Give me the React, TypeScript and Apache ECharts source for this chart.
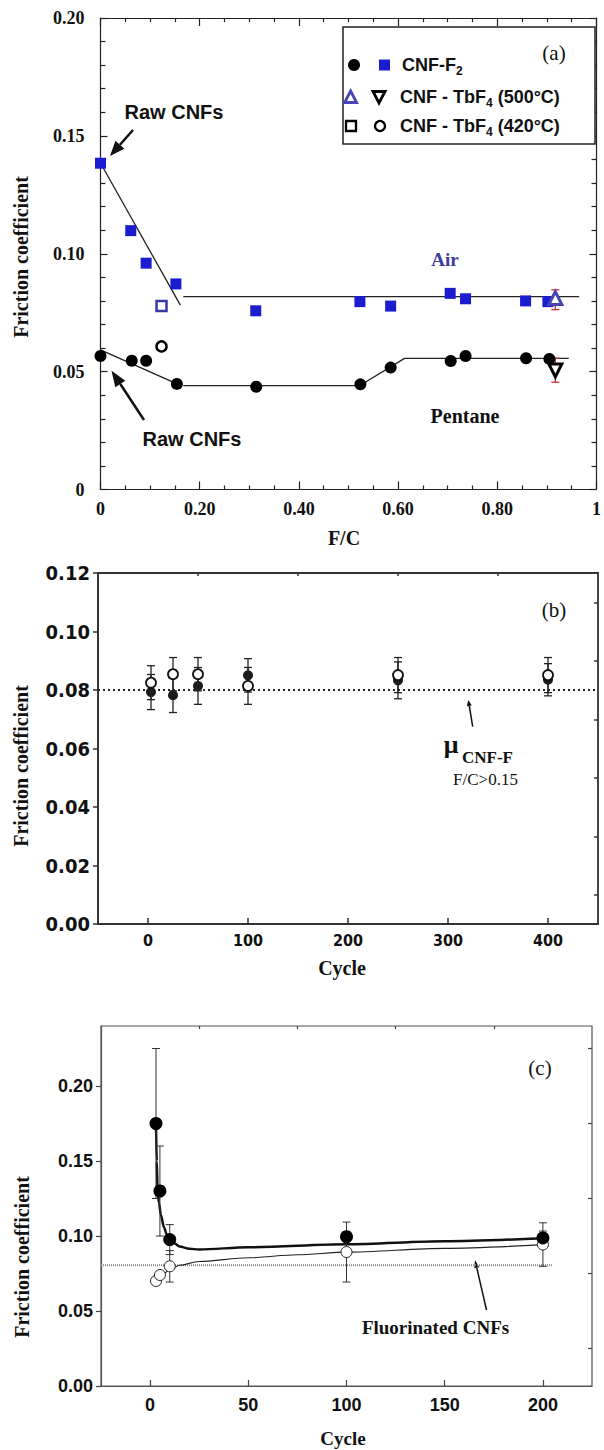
import React, { useEffect, useRef } from "react";
import * as echarts from "echarts";

// ---------- Panel (a): friction coefficient vs F/C ----------
const airFC = [0, 0.061, 0.092, 0.152, 0.313, 0.523, 0.585, 0.705, 0.736, 0.857, 0.902];
const airMu = [0.1384, 0.1098, 0.096, 0.0872, 0.0758, 0.0797, 0.0778, 0.0832, 0.0809, 0.08, 0.0797];
const pentFC = [0, 0.063, 0.092, 0.154, 0.314, 0.524, 0.585, 0.706, 0.736, 0.858, 0.905];
const pentMu = [0.0566, 0.0546, 0.0546, 0.0448, 0.0436, 0.0446, 0.0517, 0.0545, 0.0566, 0.0557, 0.0554];
const airSlopeFC = [0, 0.161];
const airSlopeMu = [0.1385, 0.0782];
const airFlatFC = [0.167, 0.965];
const airFlatMu = [0.0818, 0.0818];
const pentSlopeFC = [0, 0.16];
const pentSlopeMu = [0.0592, 0.0443];
const pentFlatFC = [0.167, 0.523, 0.613, 0.944];
const pentFlatMu = [0.0441, 0.0441, 0.0556, 0.0556];
const tb420FC = [0.123];
const tb420AirMu = [0.0778];
const tb420PentMu = [0.0607];
const tb500FC = [0.917];
const tb500AirMu = [0.0812];
const tb500AirLo = [0.0763];
const tb500AirHi = [0.0847];
const tb500PentMu = [0.0505];
const tb500PentLo = [0.0455];
const tb500PentHi = [0.0557];

// ---------- Panel (b): friction coefficient vs cycle ----------
const cycleB = [3, 25, 50, 100, 250, 400];
const openB = [0.0825, 0.0854, 0.0854, 0.0814, 0.0851, 0.0851];
const openErrB = [0.0058, 0.0057, 0.0057, 0.0063, 0.006, 0.006];
const filledB = [0.0793, 0.0782, 0.0814, 0.085, 0.0833, 0.0835];
const filledErrB = [0.006, 0.0059, 0.0063, 0.0057, 0.0063, 0.0055];
const refLineB = { x: [-50, 450], mu: 0.08 };

// ---------- Panel (c): friction coefficient vs cycle ----------
const cycleC = [3, 5, 10, 100, 200];
const filledC = [0.175, 0.13, 0.0976, 0.0995, 0.0987];
const filledErrC = [0.05, 0.03, 0.01, 0.0032, 0.0046];
const openC = [0.07, 0.074, 0.0798, 0.0893, 0.0943];
const openErrC = [0, 0, 0.0105, 0.02, 0.0145];
const fitFilledX = [3, 3.4, 3.8, 4.5, 5.5, 7, 8.5, 10.5, 12.5, 15, 20, 25, 50, 100, 150, 200];
const fitFilledY = [0.175, 0.15, 0.13, 0.122, 0.114, 0.106, 0.101, 0.097, 0.095, 0.093, 0.0915, 0.091, 0.0925, 0.0945, 0.0965, 0.0985];
const fitOpenX = [4, 5, 7, 10, 15, 25, 50, 75, 100, 150, 200];
const fitOpenY = [0.0715, 0.0725, 0.075, 0.0775, 0.0805, 0.083, 0.0855, 0.0875, 0.0892, 0.0918, 0.0942];
const refLineC = { x: [-25, 205], mu: 0.0805 };

// ---------- tick values ----------
const cycleTicksB = [0, 100, 200, 300, 400];
const cycleMinorB = [50, 150, 250, 350];
const muMinorB = [0.01, 0.03, 0.05, 0.07, 0.09, 0.11];
const cycleTicksC = [0, 50, 100, 150, 200];
const cycleMinorC = [25, 75, 125, 175];
const muTicksC = [0, 0.05, 0.1, 0.15, 0.2];
const muMinorC = [0.025, 0.075, 0.125, 0.175, 0.225];

const SERIF = "'Liberation Serif', 'Times New Roman', serif";
const SANS = "'Liberation Sans', Arial, sans-serif";
const NARROW = "'Liberation Sans Narrow', 'Arial Narrow', 'DejaVu Sans Condensed', sans-serif";
const BLUE = "#1b1bcf";
const SLATE = "#4545b5";

const zip = (xs: number[], ys: number[]) => xs.map((x, i) => [x, ys[i]]);
const zipErr = (xs: number[], ys: number[], es: number[]) =>
  xs.map((x, i) => [x, ys[i] - es[i], ys[i] + es[i]]).filter((_, i) => es[i] > 0);

function errorBars(points: number[][], xi: number, yi: number, color: string, width: number, cap: number, z = 3) {
  return {
    type: "custom",
    xAxisIndex: xi,
    yAxisIndex: yi,
    z,
    silent: true,
    data: points,
    encode: { x: 0, y: [1, 2] },
    renderItem: (_params: any, api: any) => {
      const x = api.value(0);
      const lo = api.coord([x, api.value(1)]);
      const hi = api.coord([x, api.value(2)]);
      const st = { stroke: color, lineWidth: width };
      return {
        type: "group",
        children: [
          { type: "line", shape: { x1: lo[0], y1: lo[1], x2: hi[0], y2: hi[1] }, style: st },
          { type: "line", shape: { x1: lo[0] - cap, y1: lo[1], x2: lo[0] + cap, y2: lo[1] }, style: st },
          { type: "line", shape: { x1: hi[0] - cap, y1: hi[1], x2: hi[0] + cap, y2: hi[1] }, style: st },
        ],
      };
    },
  };
}

function arrow(x1: number, y1: number, x2: number, y2: number, lw: number, hl: number, hw: number, color = "#111") {
  const dx = x2 - x1, dy = y2 - y1, L = Math.hypot(dx, dy);
  const ux = dx / L, uy = dy / L, nx = -uy, ny = ux;
  const bx = x2 - ux * hl, by = y2 - uy * hl;
  return [
    { type: "line", shape: { x1, y1, x2: bx, y2: by }, style: { stroke: color, lineWidth: lw } },
    {
      type: "polygon",
      shape: { points: [[x2, y2], [bx + nx * hw, by + ny * hw], [bx - nx * hw, by - ny * hw]] },
      style: { fill: color },
    },
  ];
}

const txt = (text: string, x: number, y: number, font: string, size: number, weight: string, color = "#111", rotation = 0, align = "center") => ({
  type: "text",
  x,
  y,
  rotation,
  style: { text, fontFamily: font, fontSize: size, fontWeight: weight, fill: color, align, verticalAlign: "middle" },
});

const line = (d: number[][], xi: number, yi: number, width: number, color = "#222", type: any = "solid", smooth: any = false) => ({
  type: "line",
  xAxisIndex: xi,
  yAxisIndex: yi,
  data: d,
  symbol: "none",
  smooth,
  smoothMonotone: "x",
  silent: true,
  z: 1,
  lineStyle: { color, width, type },
});

const scatter = (d: number[][], xi: number, yi: number, symbol: string, size: number, style: any, z = 4, rotate = 0) => ({
  type: "scatter",
  xAxisIndex: xi,
  yAxisIndex: yi,
  data: d,
  symbol,
  symbolSize: size,
  symbolRotate: rotate,
  silent: true,
  z,
  itemStyle: { opacity: 1, ...style },
});

const AX = { color: "#222", width: 1.2 };

export default function App() {
  const ref = useRef<HTMLDivElement>(null);

  useEffect(() => {
    if (!ref.current) return;
    const chart = echarts.init(ref.current, null, { renderer: "svg" });

    const fcLabel = (v: number) => (Math.abs(v) < 1e-9 ? "0" : Math.abs(v - 1) < 1e-9 ? "1" : v.toFixed(2));
    const muLabelA = (v: number) => (Math.abs(v) < 1e-9 ? "0" : v.toFixed(2));
    const fix2 = (v: number) => v.toFixed(2);

    const hidden = { show: false };
    const noLine = { show: false, onZero: false };

    const subRich = {
      m: { fontFamily: SANS, fontWeight: "bold", fontSize: 18, fill: "#111", lineHeight: 24 },
      s: { fontFamily: SANS, fontWeight: "bold", fontSize: 12, fill: "#111", lineHeight: 12, verticalAlign: "bottom" },
    };

    const option: any = {
      animation: false,
      backgroundColor: "#fff",
      grid: [
        { left: 100.5, top: 18, width: 499, height: 471.5, show: false },
        { left: 98, top: 573, width: 500, height: 351, show: true, borderColor: "#333", borderWidth: 1.8 },
        { left: 101, top: 1026, width: 491, height: 360, show: true, borderColor: "#555", borderWidth: 1.2 },
      ],
      xAxis: [
        {
          type: "value", gridIndex: 0, min: 0, max: 1, interval: 0.2,
          axisLine: { show: true, onZero: false, lineStyle: AX },
          axisTick: { inside: true, length: 8, lineStyle: AX },
          minorTick: { show: true, splitNumber: 4, length: 4, lineStyle: AX },
          axisLabel: { formatter: fcLabel, fontFamily: SERIF, fontWeight: "bold", fontSize: 18, color: "#111", margin: 10 },
          splitLine: hidden, minorSplitLine: hidden,
        },
        {
          type: "value", gridIndex: 0, position: "top", min: 0, max: 1, interval: 0.2,
          axisLine: { show: true, onZero: false, lineStyle: AX },
          axisTick: { inside: true, length: 8, lineStyle: AX },
          minorTick: { show: true, splitNumber: 4, length: 4, lineStyle: AX },
          axisLabel: hidden, splitLine: hidden, minorSplitLine: hidden,
        },
        {
          type: "value", gridIndex: 1, min: -50, max: 450,
          axisLine: { show: true, onZero: false, lineStyle: { color: "#333", width: 1.8 } },
          axisTick: { inside: true, length: 6, customValues: cycleTicksB, lineStyle: { color: "#333", width: 1.5 } },
          axisLabel: { customValues: cycleTicksB, formatter: (v: number) => String(v), fontFamily: NARROW, fontWeight: "bold", fontSize: 16, color: "#111", margin: 8 },
          splitLine: hidden,
        },
        {
          type: "value", gridIndex: 1, min: -50, max: 450,
          axisLine: noLine,
          axisTick: { inside: true, length: 3, customValues: cycleMinorB, lineStyle: { color: "#333", width: 1.5 } },
          axisLabel: hidden, splitLine: hidden,
        },
        {
          type: "value", gridIndex: 2, min: -25, max: 225,
          axisLine: { show: true, onZero: false, lineStyle: { color: "#555", width: 1.2 } },
          axisTick: { inside: true, length: 6, customValues: cycleTicksC, lineStyle: { color: "#444", width: 1.2 } },
          axisLabel: { customValues: cycleTicksC, formatter: (v: number) => String(v), fontFamily: SANS, fontWeight: "bold", fontSize: 18, color: "#111", margin: 10 },
          splitLine: hidden,
        },
        {
          type: "value", gridIndex: 2, min: -25, max: 225,
          axisLine: noLine,
          axisTick: { inside: true, length: 3, customValues: cycleMinorC, lineStyle: { color: "#444", width: 1.2 } },
          axisLabel: hidden, splitLine: hidden,
        },
      ],
      yAxis: [
        {
          type: "value", gridIndex: 0, min: 0, max: 0.2, interval: 0.05,
          axisLine: { show: true, onZero: false, lineStyle: AX },
          axisTick: { inside: true, length: 7, lineStyle: AX },
          minorTick: { show: true, splitNumber: 5, length: 5, lineStyle: AX },
          axisLabel: { formatter: muLabelA, fontFamily: SERIF, fontWeight: "bold", fontSize: 18, color: "#111", margin: 16 },
          splitLine: hidden, minorSplitLine: hidden,
        },
        {
          type: "value", gridIndex: 0, position: "right", min: 0, max: 0.2, interval: 0.05,
          axisLine: { show: true, onZero: false, lineStyle: AX },
          axisTick: { inside: true, length: 7, lineStyle: AX },
          minorTick: { show: true, splitNumber: 5, length: 5, lineStyle: AX },
          axisLabel: hidden, splitLine: hidden, minorSplitLine: hidden,
        },
        {
          type: "value", gridIndex: 1, min: 0, max: 0.12, interval: 0.02,
          axisLine: { show: true, onZero: false, lineStyle: { color: "#333", width: 1.8 } },
          axisTick: { inside: false, length: 5, lineStyle: { color: "#333", width: 1.5 } },
          axisLabel: { formatter: fix2, fontFamily: NARROW, fontWeight: "bold", fontSize: 20, color: "#111", margin: 8 },
          splitLine: hidden,
        },
        {
          type: "value", gridIndex: 1, min: 0, max: 0.12,
          axisLine: noLine,
          axisTick: { inside: true, length: 4, customValues: muMinorB, lineStyle: { color: "#333", width: 1.5 } },
          axisLabel: hidden, splitLine: hidden,
        },
        {
          type: "value", gridIndex: 2, min: 0, max: 0.24,
          axisLine: { show: true, onZero: false, lineStyle: { color: "#555", width: 1.2 } },
          axisTick: { inside: false, length: 5, customValues: muTicksC, lineStyle: { color: "#444", width: 1.2 } },
          axisLabel: { customValues: muTicksC, formatter: fix2, fontFamily: SANS, fontWeight: "bold", fontSize: 18, color: "#111", margin: 8 },
          splitLine: hidden,
        },
        {
          type: "value", gridIndex: 2, min: 0, max: 0.24,
          axisLine: noLine,
          axisTick: { inside: true, length: 4, customValues: muMinorC, lineStyle: { color: "#444", width: 1.2 } },
          axisLabel: hidden, splitLine: hidden,
        },
      ],
      series: [
        // (a)
        line(zip(airSlopeFC, airSlopeMu), 0, 0, 1.3),
        line(zip(airFlatFC, airFlatMu), 0, 0, 1.3),
        line(zip(pentSlopeFC, pentSlopeMu), 0, 0, 1.3),
        line(zip(pentFlatFC, pentFlatMu), 0, 0, 1.3),
        errorBars(
          [
            [tb500FC[0], tb500AirLo[0], tb500AirHi[0]],
            [tb500FC[0], tb500PentLo[0], tb500PentHi[0]],
          ],
          0, 0, "#d23030", 1.3, 4, 3
        ),
        scatter(zip(airFC, airMu), 0, 0, "rect", 11, { color: BLUE }),
        scatter(zip(pentFC, pentMu), 0, 0, "circle", 12, { color: "#000" }),
        scatter(zip(tb420FC, tb420AirMu), 0, 0, "rect", 10, { color: "#fff", borderColor: "#3a3aa6", borderWidth: 2.5 }),
        scatter(zip(tb420FC, tb420PentMu), 0, 0, "circle", 10, { color: "#fff", borderColor: "#000", borderWidth: 2.5 }),
        scatter(zip(tb500FC, tb500AirMu), 0, 0, "triangle", 13, { color: "#fff", borderColor: SLATE, borderWidth: 3 }, 5),
        scatter(zip(tb500FC, tb500PentMu), 0, 0, "triangle", 13, { color: "#fff", borderColor: "#000", borderWidth: 3 }, 5, 180),
        // (b)
        line(zip(refLineB.x, refLineB.x.map(() => refLineB.mu)), 2, 2, 2, "#222", [2, 3]),
        errorBars(zipErr(cycleB, filledB, filledErrB), 2, 2, "#222", 1.3, 4, 3),
        scatter(zip(cycleB, filledB), 2, 2, "circle", 10, { color: "#1a1a1a" }, 4),
        errorBars(zipErr(cycleB, openB, openErrB), 2, 2, "#222", 1.3, 4, 5),
        scatter(zip(cycleB, openB), 2, 2, "circle", 10, { color: "#fff", borderColor: "#111", borderWidth: 1.8 }, 6),
        // (c)
        line(zip(refLineC.x, refLineC.x.map(() => refLineC.mu)), 4, 4, 2, "#8a8a8a", [1, 1]),
        line(zip(fitOpenX, fitOpenY), 4, 4, 1.2, "#222", "solid", 0.3),
        line(zip(fitFilledX, fitFilledY), 4, 4, 2.5, "#111", "solid", 0.3),
        errorBars(zipErr(cycleC, openC, openErrC), 4, 4, "#333", 1, 4, 3),
        errorBars(zipErr(cycleC, filledC, filledErrC), 4, 4, "#333", 1, 4, 3),
        scatter(zip(cycleC, openC), 4, 4, "circle", 11, { color: "#fff", borderColor: "#222", borderWidth: 1 }, 4),
        scatter(zip(cycleC, filledC), 4, 4, "circle", 13, { color: "#000" }, 5),
      ],
      graphic: [
        // ----- panel (a) -----
        txt("Friction coefficient", 21, 257, SERIF, 20, "bold", "#111", Math.PI / 2),
        txt("F/C", 344, 538, SERIF, 20, "bold"),
        {
          type: "rect",
          shape: { x: 343, y: 27, width: 252, height: 117 },
          style: { fill: "#fff", stroke: "#222", lineWidth: 1.5 },
          z: 10,
        },
        { type: "circle", z: 11, shape: { cx: 354, cy: 65, r: 6 }, style: { fill: "#000" } },
        { type: "rect", z: 11, shape: { x: 379, y: 59.5, width: 11, height: 11 }, style: { fill: BLUE } },
        {
          type: "polygon", z: 11,
          shape: { points: [[350.6, 91], [356.6, 102.5], [344.6, 102.5]] },
          style: { fill: "#fff", stroke: SLATE, lineWidth: 2.8 },
        },
        {
          type: "polygon", z: 11,
          shape: { points: [[373, 91.5], [385, 91.5], [379, 103]] },
          style: { fill: "#fff", stroke: "#000", lineWidth: 2.8 },
        },
        { type: "rect", z: 11, shape: { x: 346, y: 121, width: 10, height: 10 }, style: { fill: "#fff", stroke: "#000", lineWidth: 2.3 } },
        { type: "circle", z: 11, shape: { cx: 380, cy: 126, r: 5 }, style: { fill: "#fff", stroke: "#000", lineWidth: 2.3 } },
        {
          type: "text", z: 11, x: 402, y: 65,
          style: { text: "{m|CNF-F}{s|2}", rich: subRich, align: "left", verticalAlign: "middle" },
        },
        {
          type: "text", z: 11, x: 400, y: 97,
          style: { text: "{m|CNF - TbF}{s|4}{m| (500°C)}", rich: subRich, align: "left", verticalAlign: "middle" },
        },
        {
          type: "text", z: 11, x: 400, y: 126,
          style: { text: "{m|CNF - TbF}{s|4}{m| (420°C)}", rich: subRich, align: "left", verticalAlign: "middle" },
        },
        { ...txt("(a)", 554, 53, SERIF, 21, "normal"), z: 11 },
        txt("Raw CNFs", 174, 112, SANS, 20, "bold"),
        ...arrow(133, 130, 110, 156, 2.5, 15, 6),
        txt("Raw CNFs", 192, 439, SANS, 20, "bold"),
        ...arrow(144, 420, 111.5, 370.7, 2.5, 16, 6),
        txt("Air", 445, 259, SERIF, 19, "bold", "#3c3c9c"),
        txt("Pentane", 465, 416, SERIF, 20, "bold"),
        // ----- panel (b) -----
        txt("Friction coefficient", 21, 766, SERIF, 20, "bold", "#111", Math.PI / 2),
        txt("Cycle", 342, 968, SERIF, 20, "bold"),
        txt("(b)", 554, 610, SERIF, 21, "normal"),
        txt("μ", 451, 744, SERIF, 26, "bold"),
        txt("CNF-F", 462, 757, SERIF, 17, "bold", "#111", 0, "left"),
        txt("F/C>0.15", 485.5, 779, SERIF, 17, "normal"),
        ...arrow(472.7, 726.7, 468.3, 700, 1.5, 6, 2.5),
        // ----- panel (c) -----
        txt("Friction coefficient", 22, 1257, SERIF, 20, "bold", "#111", Math.PI / 2),
        txt("Cycle", 343, 1438, SERIF, 19, "bold"),
        txt("(c)", 540, 1068, SERIF, 21, "normal"),
        txt("Fluorinated CNFs", 435.5, 1327, SERIF, 19, "bold"),
        ...arrow(486.5, 1310, 475, 1260, 1.5, 8, 2.5),
      ],
    };

    chart.setOption(option);
    return () => chart.dispose();
  }, []);

  return (
    <div
      ref={ref}
      style={{ position: "absolute", left: 0, top: 0, width: 604, height: 1450, background: "#fff" }}
    />
  );
}
